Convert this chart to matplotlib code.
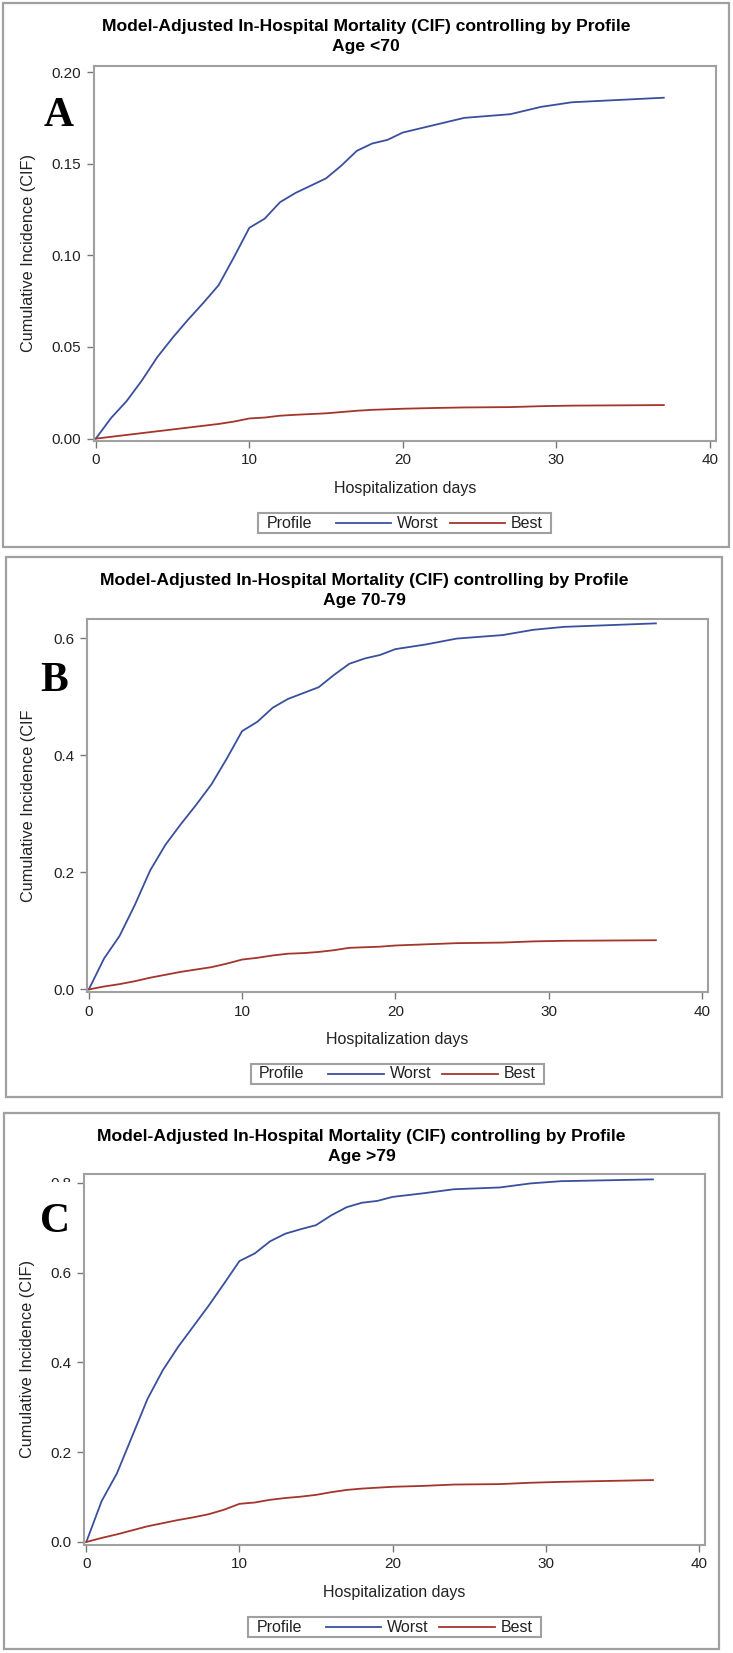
import matplotlib
matplotlib.use('Agg')
import matplotlib.pyplot as plt
from matplotlib.patches import Rectangle
from matplotlib.lines import Line2D
from matplotlib.offsetbox import AnchoredOffsetbox, HPacker, TextArea, DrawingArea
from matplotlib.transforms import Bbox, TransformedBbox

##################################################################
## data
days = [0, 1, 2, 3, 4, 5, 6, 7, 8, 9, 10, 11, 12, 13, 14, 15, 16, 17, 18, 19, 20,
        22, 24, 27, 29, 31, 37]

worst_a = [0, .0113, .0204, .0317, .0444, .055, .0648, .074, .0837, .099, .115, .120, .129,
           .134, .138, .142, .149, .157, .161, .163, .167, .171, .175, .177, .181, .1835, .186]
best_a = [0, .001, .002, .003, .004, .005, .006, .007, .008, .0093, .011, .0115, .0125,
          .013, .0134, .0138, .0145, .0152, .0157, .016, .0163, .0167, .017, .0172, .0177, .018, .0183]

worst_b = [0, .053, .091, .144, .203, .247, .282, .315, .35, .394, .441, .457, .481,
           .496, .506, .516, .537, .556, .565, .571, .581, .589, .599, .605, .614, .619, .625]
best_b = [0, .005, .009, .014, .020, .025, .030, .034, .038, .044, .051, .054, .058,
          .061, .062, .064, .067, .071, .072, .073, .075, .077, .079, .080, .082, .083, .084]

worst_c = [0, .091, .153, .236, .319, .383, .435, .481, .527, .576, .626, .643, .67,
           .687, .697, .706, .728, .746, .756, .76, .769, .777, .786, .79, .799, .804, .808]
best_c = [0, .009, .017, .026, .035, .042, .049, .055, .062, .072, .085, .088, .094,
          .098, .101, .105, .111, .116, .119, .121, .123, .125, .128, .129, .132, .134, .138]

series_names = ['Worst', 'Best']
title_main = 'Model-Adjusted In-Hospital Mortality (CIF) controlling by Profile'
subtitles = ['Age <70', 'Age 70-79', 'Age >79']
letters = ['A', 'B', 'C']
ylabels = ['Cumulative Incidence (CIF)', 'Cumulative Incidence (CIF', 'Cumulative Incidence (CIF)']
xticks = [0, 10, 20, 30, 40]
yticks_a = [0.00, 0.05, 0.10, 0.15, 0.20]
yticks_b = [0.0, 0.2, 0.4, 0.6]
yticks_c = [0.0, 0.2, 0.4, 0.6, 0.8]
ytick_labels_a = ['0.00', '0.05', '0.10', '0.15', '0.20']
ytick_labels_b = ['0.0', '0.2', '0.4', '0.6']
ytick_labels_c = ['0.0', '0.2', '0.4', '0.6', '0.8']

##################################################################
## style / layout (pixels of a 733x1653 canvas)
W, H = 733, 1653
sans = ['Liberation Sans', 'DejaVu Sans']
blue, red = '#3a4f9d', '#a3352b'
grey = '#a0a0a0'
txt = '#222222'

frames = [(3, 3, 729, 547), (6, 557, 722, 1097), (4, 1113, 719, 1649)]
axes_px = [(93.5, 66, 716, 441), (86.5, 618.5, 708, 992), (84, 1174, 705, 1545)]
ylims = [(-0.0013, 0.2033), (-0.0044, 0.6333), (-0.0067, 0.82)]
letter_pos = [(59, 116), (54, 681), (55, 1222)]

panels = [(worst_a, best_a, yticks_a, ytick_labels_a),
          (worst_b, best_b, yticks_b, ytick_labels_b),
          (worst_c, best_c, yticks_c, ytick_labels_c)]

fig = plt.figure(figsize=(W / 100, H / 100), dpi=100)
fig.patch.set_facecolor('white')

axes = []
for i, (worst, best, yt, ytl) in enumerate(panels):
    fl, ft, fr, fb = frames[i]
    fig.add_artist(Rectangle((fl / W, 1 - fb / H), (fr - fl) / W, (fb - ft) / H,
                             transform=fig.transFigure, fill=False, edgecolor=grey, lw=1.6))
    cx = (fl + fr) / 2
    fig.text(cx / W, 1 - (ft + 23) / H, title_main, ha='center', va='center',
             fontsize=12.6, fontweight='bold', family=sans, color='black')
    fig.text(cx / W, 1 - (ft + 43) / H, subtitles[i], ha='center', va='center',
             fontsize=12.6, fontweight='bold', family=sans, color='black')

    l, t, r, b = axes_px[i]
    ax = fig.add_axes([l / W, 1 - b / H, (r - l) / W, (b - t) / H])
    ax.plot(days, worst, color=blue, lw=1.3, label=series_names[0])
    ax.plot(days, best, color=red, lw=1.3, label=series_names[1])
    ax.set_xlim(-0.15, 40.4)
    ax.set_ylim(*ylims[i])
    ax.set_xticks(xticks)
    ax.set_yticks(yt)
    ax.set_yticklabels(ytl)
    for s in ax.spines.values():
        s.set_color(grey)
        s.set_linewidth(1.5)
    ax.tick_params(direction='out', length=5, width=1, color='#777777', pad=4,
                   labelsize=11, labelcolor=txt)
    for lab in ax.get_xticklabels() + ax.get_yticklabels():
        lab.set_family(sans)

    ax.set_xlabel('Hospitalization days', fontsize=11.5, family=sans, color=txt)
    ax.xaxis.set_label_coords(0.5, -40 / (b - t))
    ax.set_ylabel(ylabels[i], fontsize=11.7, family=sans, color=txt)
    ax.yaxis.label.set_va('center')
    ax.yaxis.set_label_coords((28 - l) / (r - l), 0.5)

    # panel letter
    fig.text(letter_pos[i][0] / W, 1 - letter_pos[i][1] / H, letters[i], ha='center', va='center',
             fontsize=30, fontweight='bold', family=['Liberation Serif', 'DejaVu Serif'])

    # legend: "Profile" on the left, then the two line samples
    items = [DrawingArea(0, 1), TextArea('Profile', textprops=dict(fontsize=11.5, family=sans, color=txt))]
    for k, (name, col) in enumerate(zip(series_names, [blue, red])):
        lead = 13 if k == 0 else 4
        da = DrawingArea(lead + 40, 8)
        da.add_artist(Line2D([lead, lead + 40], [4, 4], color=col, lw=1.3))
        items.append(da)
        items.append(TextArea(name, textprops=dict(fontsize=11.5, family=sans, color=txt)))
    items.append(DrawingArea(0, 1))
    pack = HPacker(children=items, align='center', pad=0, sep=4)
    leg = AnchoredOffsetbox(loc='center', child=pack, pad=0.2, borderpad=0, frameon=True,
                            bbox_to_anchor=((l + r) / 2 / W, 1 - (b + 82) / H),
                            bbox_transform=fig.transFigure)
    leg.patch.set_edgecolor(grey)
    leg.patch.set_linewidth(1.5)
    fig.add_artist(leg)
    axes.append(ax)

# top tick label of panel C only shows its upper part in the reference
fig.canvas.draw()
clip = TransformedBbox(Bbox([[0, 1 - 1182 / H], [1, 1]]), fig.transFigure)
for lab in axes[2].get_yticklabels():
    if lab.get_text() == '0.8':
        lab.set_clip_box(clip)
        lab.set_clip_on(True)

fig.savefig('out.png', dpi=100, facecolor='white')
